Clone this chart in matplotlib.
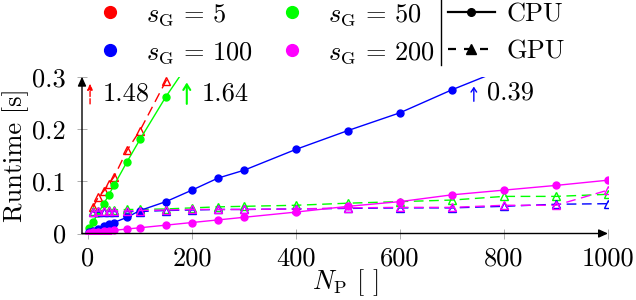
import matplotlib
matplotlib.use('Agg')
import matplotlib.pyplot as plt
from matplotlib.lines import Line2D

plt.rcParams['font.family'] = 'serif'
plt.rcParams['font.serif'] = ['cmr10']
plt.rcParams['mathtext.fontset'] = 'cm'
plt.rcParams['axes.unicode_minus'] = False

# particle counts N_P
n_p_cpu = [1, 10, 20, 30, 40, 50, 75, 100, 150, 200, 250, 300, 400, 500, 600, 700, 800, 900, 1000]
n_p_gpu = [10, 20, 30, 40, 50, 75, 100, 150, 200, 250, 300, 400, 500, 600, 700, 800, 900, 1000]

# CPU runtimes [s]
cpu_sg50 = [0.010, 0.022, 0.040, 0.056, 0.074, 0.092, 0.137, 0.180, 0.262, 0.335, 0.42, 0.50,
            0.66, 0.83, 0.99, 1.15, 1.31, 1.48, 1.64]
cpu_sg100 = [0.002, 0.005, 0.009, 0.014, 0.018, 0.021, 0.031, 0.044, 0.061, 0.083, 0.106, 0.121,
             0.161, 0.197, 0.231, 0.275, 0.315, 0.350, 0.390]
cpu_sg200 = [0.001, 0.002, 0.003, 0.004, 0.005, 0.006, 0.0086, 0.011, 0.016, 0.021, 0.026, 0.031,
             0.041, 0.052, 0.061, 0.074, 0.083, 0.092, 0.102]

# GPU runtimes [s]
gpu_sg5 = [0.051, 0.070, 0.081, 0.095, 0.108, 0.159, 0.197, 0.292, 0.37, 0.45, 0.53,
           0.68, 0.84, 0.99, 1.13, 1.25, 1.37, 1.48]
gpu_sg50 = [0.043, 0.044, 0.044, 0.045, 0.045, 0.046, 0.046, 0.047, 0.049, 0.051, 0.052,
            0.054, 0.058, 0.061, 0.064, 0.071, 0.071, 0.075]
gpu_sg100 = [0.041, 0.041, 0.041, 0.042, 0.042, 0.042, 0.042, 0.044, 0.045, 0.046, 0.046,
             0.047, 0.048, 0.049, 0.049, 0.052, 0.056, 0.057]
gpu_sg200 = [0.042, 0.043, 0.043, 0.043, 0.043, 0.043, 0.044, 0.045, 0.046, 0.046, 0.046,
             0.047, 0.049, 0.050, 0.050, 0.054, 0.054, 0.083]

x_ticks = [0, 200, 400, 600, 800, 1000]
y_ticks = [0, 0.1, 0.2, 0.3]
y_tick_labels = ['0', '0.1', '0.2', '0.3']

RED, GREEN, BLUE, MAGENTA = '#ff0000', '#00ff00', '#0000ff', '#ff00ff'
FS = 19


def cpu_line(ax, y, color):
    ax.plot(n_p_cpu, y, color=color, lw=1.0, marker='o', ms=5, zorder=3)


def gpu_line(ax, y, color):
    ax.plot(n_p_gpu, y, color=color, lw=1.0, ls='--', dashes=(7, 4), marker='^', ms=6,
            mfc='none', mec=color, mew=1.0, zorder=3)


fig = plt.figure(figsize=(6.36, 3.0), dpi=100)
ax = fig.add_axes([82 / 636, 1 - 233.5 / 300, 526 / 636, 156.8 / 300])

gpu_line(ax, gpu_sg5, RED)
cpu_line(ax, cpu_sg50, GREEN)
gpu_line(ax, gpu_sg50, GREEN)
cpu_line(ax, cpu_sg100, BLUE)
gpu_line(ax, gpu_sg100, BLUE)
cpu_line(ax, cpu_sg200, MAGENTA)
gpu_line(ax, gpu_sg200, MAGENTA)

ax.set_xlim(-11.5, 1000)
ax.set_ylim(0, 0.3)
ax.set_xticks(x_ticks)
ax.set_yticks(y_ticks)
ax.set_yticklabels(y_tick_labels)
ax.tick_params(direction='inout', length=7.5, width=0.6, color='#a0a0a0', labelsize=FS)
ax.tick_params(axis='x', pad=6)
ax.tick_params(axis='y', pad=8)

for s in ax.spines.values():
    s.set_visible(False)
head = '-|>,head_length=0.55,head_width=0.25'
ax.annotate('', xy=(1, 0), xytext=(0, 0), xycoords='axes fraction',
            arrowprops=dict(arrowstyle=head, color='k', lw=1.0, shrinkA=0, shrinkB=0))
ax.annotate('', xy=(0, 1), xytext=(0, 0), xycoords='axes fraction',
            arrowprops=dict(arrowstyle=head, color='k', lw=1.0, shrinkA=0, shrinkB=0))

ax.set_xlabel(r'$N_{\mathrm{P}}$ [ ]', fontsize=FS, va='center')
ax.xaxis.set_label_coords(0.5, -0.316)
ax.set_ylabel('Runtime [s]', fontsize=FS, va='center')
ax.yaxis.set_label_coords(-0.127, 0.5)

# out-of-range values at N_P = 1000
ax.annotate('', xy=(4, 0.287), xytext=(4, 0.248),
            arrowprops=dict(arrowstyle='-|>,head_length=0.35,head_width=0.15', color=RED,
                            lw=1.0, ls='--', shrinkA=0, shrinkB=0))
ax.text(29, 0.267, '1.48', fontsize=FS, va='center')
ax.annotate('', xy=(190, 0.289), xytext=(190, 0.248),
            arrowprops=dict(arrowstyle='->,head_length=0.4,head_width=0.25', color=GREEN,
                            lw=1.5, shrinkA=0, shrinkB=0))
ax.text(219, 0.267, '1.64', fontsize=FS, va='center')
ax.annotate('', xy=(742, 0.281), xytext=(742, 0.253),
            arrowprops=dict(arrowstyle='->,head_length=0.3,head_width=0.2', color=BLUE,
                            lw=1.0, shrinkA=0, shrinkB=0))
ax.text(768, 0.269, '0.39', fontsize=FS, va='center')

# legend: colours
colour_handles = [Line2D([], [], ls='none', marker='o', ms=8.5, color=c)
                  for c in (RED, BLUE, GREEN, MAGENTA)]
colour_labels = [r'$s_{\mathrm{G}}\,=\,5$', r'$s_{\mathrm{G}}\,=\,100$',
                 r'$s_{\mathrm{G}}\,=\,50$', r'$s_{\mathrm{G}}\,=\,200$']
leg1 = fig.legend(colour_handles, colour_labels, loc='upper left', bbox_to_anchor=(97 / 636, 1 - 2 / 300),
                  ncol=2, frameon=False, fontsize=FS, handlelength=1.0, handletextpad=0.85,
                  columnspacing=1.0, borderpad=0, borderaxespad=0, labelspacing=0.47)

# legend: line styles
style_handles = [Line2D([], [], color='k', lw=1.6, marker='o', ms=5.5),
                 Line2D([], [], color='k', lw=1.6, ls='--', dashes=(3.6, 3.6), marker='^', ms=6.5)]
leg2 = fig.legend(style_handles, ['CPU', 'GPU'], loc='upper left', bbox_to_anchor=(448 / 636, 1 - 3 / 300),
                  frameon=False, fontsize=FS, handlelength=1.78, handletextpad=0.45,
                  borderpad=0, borderaxespad=0, labelspacing=0.5)

fig.add_artist(Line2D([441 / 636, 441 / 636], [1.0, 1 - 65 / 300], color='k', lw=1.0,
                      transform=fig.transFigure))

fig.savefig('out.png', dpi=100)
